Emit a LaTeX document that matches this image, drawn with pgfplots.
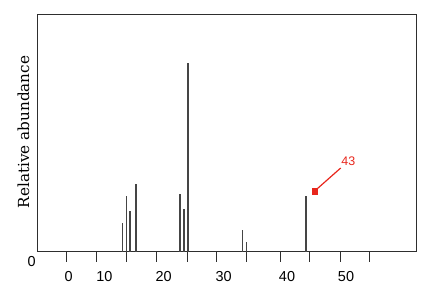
\documentclass[border=0pt]{standalone}
\usepackage{pgfplots}
\pgfplotsset{compat=1.18}
\usepackage{fontspec}
\setmainfont{Liberation Sans}
\newfontfamily\seriffont{DejaVu Serif}
\definecolor{axgray}{HTML}{2E2E2E}
\definecolor{pkgray}{HTML}{454545}
\definecolor{redm}{HTML}{E8261C}
\begin{document}
\begin{tikzpicture}
\begin{axis}[
  scale only axis,
  width=379.4bp, height=237.5bp,
  xmin=37.3, xmax=416.7, ymin=0, ymax=237.5,
  axis line style={axgray, line width=0.9pt},
  ytick=\empty,
  xtick pos=bottom,
  xtick={66.3,96.7,126,156,187.5,216.7,246.7,280.5,309.3,340,369.5},
  xticklabels={},
  tick align=outside,
  major tick length=10bp,
  x tick style={axgray, line width=1pt},
  extra x ticks={68.7,104.5,163.7,223.7,287,346},
  extra x tick labels={0,10,20,30,40,50},
  extra x tick style={major tick length=0pt, tick label style={font=\fontsize{14.5}{14.5}\selectfont, anchor=center, yshift=-25bp}},
  ylabel={\seriffont Relative abundance},
  ylabel style={font=\fontsize{15.3}{15.3}\selectfont, at={(rel axis cs:0,0.503)}, anchor=center, yshift=13.8bp},
  clip=false,
]
\addplot[ycomb, no markers, pkgray, line width=1.4bp] coordinates {
(122.7,29) (126.7,55.5) (130,41) (136,67.5) (180,57.5) (184,42.5) (188,189) (242.7,21.5) (246.7,9.5) (306,55.5)};
\addplot[redm, line width=1.2pt, no markers] coordinates {(314.7,60.5) (340.7,83.5)};
\addplot[only marks, mark=square*, mark size=2.7bp, redm] coordinates {(314.7,60.5)};
\node[redm, font=\fontsize{12.5}{12.5}\selectfont] at (axis cs:348.3,89.8) {43};
\node[font=\fontsize{14.5}{14.5}\selectfont] at (rel axis cs:0,0) [xshift=-5.6bp, yshift=-10.2bp] {0};
\end{axis}
\path (current axis.south west) ++(-37.3bp,-42.5bp) rectangle ++(438bp,294bp);
\end{tikzpicture}
\end{document}
